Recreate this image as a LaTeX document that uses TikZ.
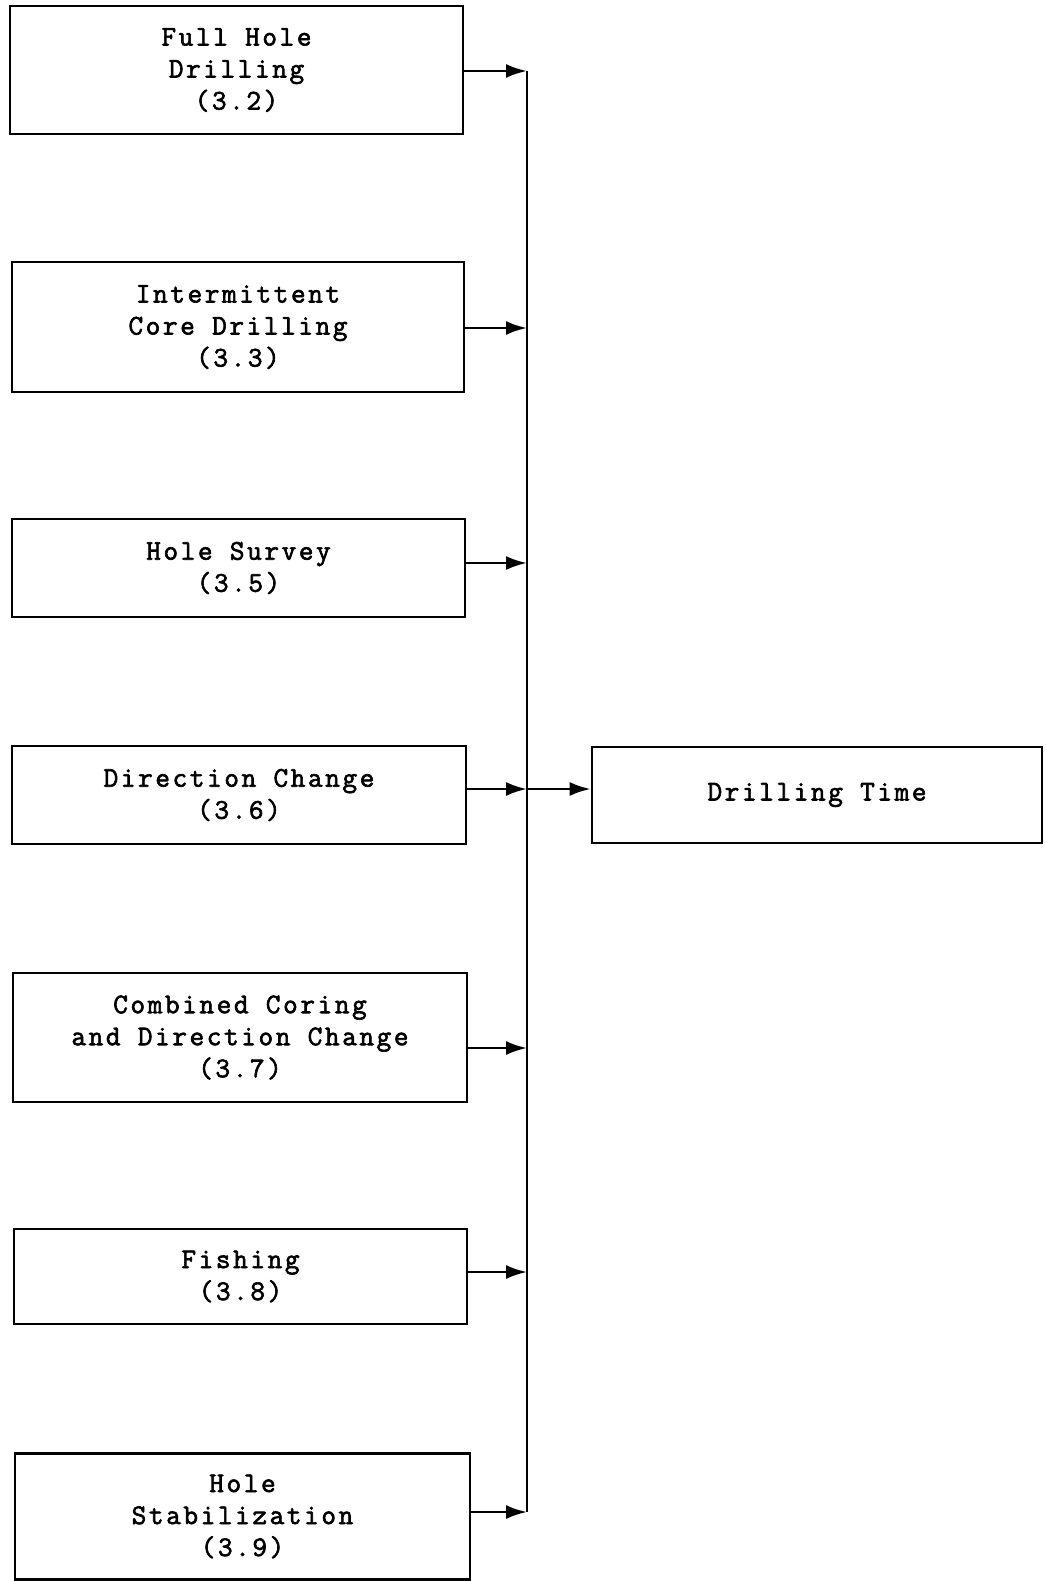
\documentclass[tikz,border=0pt]{standalone}
\usepackage{fontspec}
\setmainfont{Latin Modern Mono}[LetterSpace=9,FakeBold=2.2]
\usetikzlibrary{arrows.meta}
\begin{document}
\begin{tikzpicture}[x=1pt,y=-1pt,
  box/.style={draw, line width=2.7pt, rectangle, inner sep=0pt, align=center,
    font=\fontsize{28.5}{32}\selectfont},
  conn/.style={line width=2.7pt},
  arr/.style={line width=2.7pt, -{Latex[length=21pt,width=14pt]}}]
\useasboundingbox (0,0) rectangle (1045,1581);
\node[box, minimum width=453pt, minimum height=128pt] (b1) at (236.5,70) {Full Hole\\Drilling\\(3.2)};
\node[box, minimum width=452pt, minimum height=130pt] (b2) at (238,327) {Intermittent\\Core Drilling\\(3.3)};
\node[box, minimum width=453pt, minimum height=98pt] (b3) at (238.5,568) {Hole Survey\\(3.5)};
\node[box, minimum width=454pt, minimum height=98pt] (b4) at (239,795) {Direction Change\\(3.6)};
\node[box, minimum width=454pt, minimum height=129pt] (b5) at (240,1037.5) {Combined Coring\\and Direction Change\\(3.7)};
\node[box, minimum width=453pt, minimum height=95pt] (b6) at (240.5,1276.5) {Fishing\\(3.8)};
\node[box, minimum width=455pt, minimum height=126pt] (b7) at (242.5,1516.5) {Hole\\Stabilization\\(3.9)};
\node[box, minimum width=450pt, minimum height=96pt] (dt) at (817,795) {Drilling Time};
\coordinate (j1) at (527,71);
\coordinate (j2) at (527,328);
\coordinate (j3) at (527,563);
\coordinate (j4) at (527,789);
\coordinate (j5) at (527,1048);
\coordinate (j6) at (527,1272);
\coordinate (j7) at (527,1512);
\draw[conn] (j1) -- (j7);
\foreach \i in {1,...,7} {
  \draw[arr] (b\i.east |- j\i) -- (j\i);
}
\draw[arr] (j4) -- (dt.west |- j4);
\end{tikzpicture}
\end{document}
